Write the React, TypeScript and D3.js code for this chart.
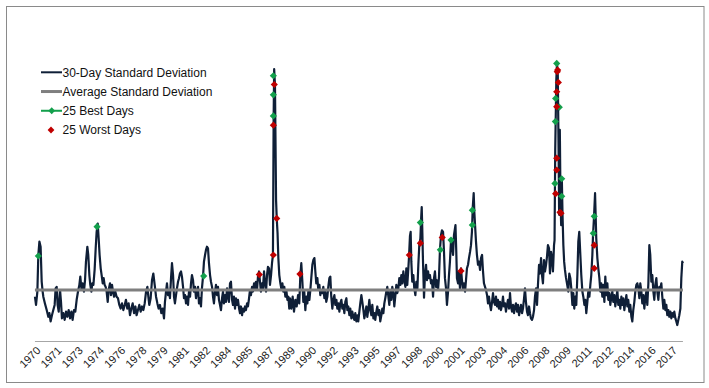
import React from 'react'
import * as d3 from 'd3'

// x-axis category labels (Excel shows every ~1.6 years)
const tickLabels = [
  '1970', '1971', '1973', '1974', '1976', '1978', '1979', '1981', '1982', '1984',
  '1985', '1987', '1989', '1990', '1992', '1993', '1995', '1997', '1998', '2000',
  '2001', '2003', '2004', '2006', '2008', '2009', '2011', '2012', '2014', '2016', '2017',
]

// long run average of the 30-day standard deviation (%)
const averageStdDev = 1.0

// [decimal year, 30-day std dev %]
const stdDevSeries: [number, number][] = [
  // 1970s
  [1970.07, 0.87], [1970.15, 0.71], [1970.25, 0.97], [1970.32, 1.68], [1970.4, 1.94], [1970.49, 1.84],
  [1970.57, 1.16], [1970.64, 0.97], [1970.69, 0.87], [1970.81, 0.74], [1970.94, 0.61], [1971.06, 0.48],
  [1971.14, 0.55], [1971.23, 0.39], [1971.33, 0.51], [1971.43, 0.61], [1971.53, 0.71], [1971.6, 1.03],
  [1971.68, 1.06], [1971.75, 0.71], [1971.83, 0.58], [1971.93, 1.0], [1972.0, 0.77], [1972.07, 0.45],
  [1972.17, 0.55], [1972.27, 0.42], [1972.37, 0.58], [1972.47, 0.48], [1972.57, 0.61], [1972.67, 0.45],
  [1972.77, 0.58], [1972.86, 0.42], [1972.96, 0.61], [1973.06, 0.58], [1973.16, 0.81], [1973.26, 0.97],
  [1973.36, 1.1], [1973.43, 1.26], [1973.51, 1.03], [1973.6, 1.13], [1973.7, 0.97], [1973.78, 1.19],
  [1973.85, 1.55], [1973.95, 1.84], [1974.02, 1.68], [1974.1, 1.29], [1974.17, 1.1], [1974.25, 0.97],
  [1974.32, 1.13], [1974.4, 1.1], [1974.49, 1.39], [1974.57, 1.81], [1974.64, 2.13], [1974.72, 2.29],
  [1974.79, 2.0], [1974.86, 1.68], [1974.94, 1.42], [1975.01, 1.29], [1975.09, 1.13], [1975.16, 1.23],
  [1975.23, 1.1], [1975.31, 1.06], [1975.38, 0.97], [1975.46, 0.77], [1975.53, 1.0], [1975.63, 1.13],
  [1975.7, 0.9], [1975.78, 1.1], [1975.85, 0.97], [1975.93, 0.87], [1976.02, 0.97], [1976.12, 0.87],
  [1976.22, 0.84], [1976.32, 0.71], [1976.42, 0.64], [1976.52, 0.74], [1976.62, 0.61], [1976.72, 0.71],
  [1976.81, 0.81], [1976.91, 0.64], [1977.01, 0.74], [1977.11, 0.51], [1977.21, 0.64], [1977.31, 0.74],
  [1977.41, 0.55], [1977.51, 0.68], [1977.6, 0.51], [1977.7, 0.61], [1977.8, 0.71], [1977.9, 0.58],
  [1978.0, 0.68], [1978.1, 0.61], [1978.2, 0.74], [1978.3, 0.97], [1978.4, 1.06], [1978.47, 0.87],
  [1978.54, 0.71], [1978.64, 0.84], [1978.74, 1.19], [1978.84, 1.32], [1978.94, 1.1], [1979.04, 0.87],
  [1979.14, 0.74], [1979.23, 0.64],
  // 1980s
  [1979.33, 0.71], [1979.43, 0.55], [1979.53, 0.64], [1979.63, 0.45], [1979.7, 0.77], [1979.78, 0.97],
  [1979.85, 1.13], [1979.93, 0.9], [1980.0, 1.0], [1980.07, 0.84], [1980.15, 1.23], [1980.22, 1.52],
  [1980.3, 1.29], [1980.37, 0.87], [1980.44, 0.74], [1980.52, 0.9], [1980.59, 1.03], [1980.67, 1.16],
  [1980.74, 1.23], [1980.81, 1.32], [1980.89, 1.36], [1980.96, 1.26], [1981.04, 1.06], [1981.11, 0.84],
  [1981.19, 0.9], [1981.26, 0.74], [1981.33, 0.87], [1981.41, 0.71], [1981.48, 0.97], [1981.56, 0.87],
  [1981.63, 1.13], [1981.7, 1.29], [1981.78, 1.19], [1981.85, 0.97], [1981.93, 1.06], [1982.0, 0.84],
  [1982.07, 0.97], [1982.15, 1.06], [1982.22, 0.74], [1982.3, 0.84], [1982.37, 0.68], [1982.44, 1.03],
  [1982.52, 1.26], [1982.59, 1.55], [1982.67, 1.68], [1982.74, 1.78], [1982.81, 1.84], [1982.89, 1.81],
  [1982.96, 1.52], [1983.04, 1.29], [1983.11, 1.16], [1983.19, 1.06], [1983.26, 0.87], [1983.33, 0.74],
  [1983.41, 0.97], [1983.48, 1.1], [1983.56, 0.9], [1983.63, 1.06], [1983.7, 0.81], [1983.78, 0.71],
  [1983.85, 0.61], [1983.93, 0.84], [1984.0, 0.97], [1984.07, 0.74], [1984.15, 0.9], [1984.22, 0.77],
  [1984.3, 1.03], [1984.37, 0.87], [1984.44, 0.77], [1984.52, 1.13], [1984.59, 1.16], [1984.67, 0.81],
  [1984.74, 0.71], [1984.81, 0.87], [1984.89, 0.64], [1984.96, 0.84], [1985.04, 0.71], [1985.11, 0.81],
  [1985.19, 0.64], [1985.26, 0.55], [1985.33, 0.68], [1985.41, 0.51], [1985.48, 0.64], [1985.56, 0.58],
  [1985.63, 0.68], [1985.7, 0.61], [1985.78, 0.74], [1985.85, 0.68], [1985.93, 0.84], [1986.0, 1.0],
  [1986.07, 0.9], [1986.15, 1.06], [1986.22, 0.97], [1986.3, 1.13], [1986.37, 1.03], [1986.44, 1.16],
  [1986.52, 1.0], [1986.59, 1.26], [1986.67, 1.36], [1986.74, 1.16], [1986.81, 0.97], [1986.89, 1.13],
  [1986.96, 1.03], [1987.04, 1.36], [1987.11, 1.13], [1987.19, 0.97], [1987.26, 1.29], [1987.33, 1.45],
  [1987.41, 1.42], [1987.48, 1.1], [1987.56, 1.29], [1987.63, 1.52], [1987.7, 1.68], [1987.75, 4.3],
  [1987.79, 5.29], [1987.85, 4.98], [1987.93, 2.75], [1987.98, 2.39], [1988.04, 2.11], [1988.1, 1.62],
  [1988.17, 1.29], [1988.25, 1.13], [1988.32, 1.03], [1988.4, 1.13], [1988.47, 0.97], [1988.54, 1.06],
  [1988.62, 0.87], [1988.69, 1.0], [1988.77, 0.81], [1988.84, 0.87], [1988.91, 0.64],
  // 1990s
  [1988.96, 0.84], [1989.06, 0.64], [1989.16, 0.87], [1989.26, 0.58], [1989.36, 0.81], [1989.46, 0.68],
  [1989.56, 0.9], [1989.65, 0.74], [1989.73, 1.29], [1989.8, 1.52], [1989.88, 1.16], [1989.95, 0.77],
  [1990.02, 0.97], [1990.1, 0.61], [1990.17, 0.87], [1990.25, 0.74], [1990.32, 0.97], [1990.4, 0.81],
  [1990.47, 1.0], [1990.54, 1.23], [1990.62, 1.49], [1990.69, 1.58], [1990.77, 1.62], [1990.84, 1.36],
  [1990.91, 1.13], [1990.99, 1.23], [1991.06, 1.0], [1991.14, 1.1], [1991.21, 0.9], [1991.28, 1.0],
  [1991.36, 0.94], [1991.43, 1.06], [1991.51, 0.84], [1991.58, 0.97], [1991.65, 0.77], [1991.73, 0.87],
  [1991.8, 1.06], [1991.88, 1.23], [1991.95, 1.26], [1992.02, 0.87], [1992.1, 0.64], [1992.17, 0.81],
  [1992.25, 0.9], [1992.32, 0.71], [1992.4, 0.81], [1992.47, 0.64], [1992.54, 0.74], [1992.62, 0.58],
  [1992.69, 0.74], [1992.77, 0.81], [1992.84, 0.64], [1992.91, 0.71], [1992.99, 0.55], [1993.06, 0.77],
  [1993.14, 0.84], [1993.21, 0.61], [1993.28, 0.68], [1993.36, 0.51], [1993.43, 0.64], [1993.51, 0.45],
  [1993.58, 0.58], [1993.65, 0.48], [1993.73, 0.42], [1993.8, 0.55], [1993.88, 0.39], [1993.95, 0.51],
  [1994.02, 0.39], [1994.1, 0.58], [1994.17, 0.74], [1994.25, 0.9], [1994.32, 0.77], [1994.4, 0.61],
  [1994.47, 0.45], [1994.54, 0.55], [1994.62, 0.68], [1994.69, 0.48], [1994.77, 0.64], [1994.84, 0.81],
  [1994.91, 0.61], [1994.99, 0.51], [1995.06, 0.71], [1995.14, 0.45], [1995.21, 0.55], [1995.28, 0.42],
  [1995.36, 0.58], [1995.43, 0.68], [1995.51, 0.51], [1995.58, 0.61], [1995.65, 0.39], [1995.73, 0.51],
  [1995.8, 0.64], [1995.88, 0.55], [1995.95, 0.74], [1996.02, 0.84], [1996.1, 0.97], [1996.17, 1.06],
  [1996.25, 0.87], [1996.32, 0.71], [1996.4, 1.0], [1996.47, 0.81], [1996.54, 1.06], [1996.62, 0.94],
  [1996.69, 0.68], [1996.77, 0.9], [1996.84, 1.1], [1996.91, 0.94], [1996.99, 1.03], [1997.06, 1.23],
  [1997.14, 1.1], [1997.21, 1.29], [1997.28, 1.13], [1997.36, 1.36], [1997.43, 1.19], [1997.51, 1.06],
  [1997.58, 1.42], [1997.65, 1.1], [1997.73, 1.42], [1997.78, 1.65], [1997.85, 2.05], [1997.9, 2.13],
  [1997.95, 1.55], [1998.02, 1.16], [1998.1, 1.29], [1998.17, 1.03], [1998.25, 0.9], [1998.32, 1.16],
  [1998.4, 1.03], [1998.47, 1.49], [1998.54, 1.87], [1998.62, 2.0], [1998.68, 2.4], [1998.72, 2.61],
  [1998.76, 2.2], [1998.81, 1.6],
  // 2000s
  [1998.89, 0.85], [1998.96, 1.29], [1999.04, 1.49], [1999.11, 1.19], [1999.19, 1.36], [1999.26, 1.23],
  [1999.33, 1.29], [1999.41, 1.13], [1999.48, 1.19], [1999.56, 0.87], [1999.63, 1.23], [1999.7, 1.36],
  [1999.78, 1.06], [1999.85, 1.19], [1999.93, 1.0], [2000.0, 1.26], [2000.07, 1.78], [2000.15, 2.07],
  [2000.22, 2.16], [2000.3, 2.13], [2000.37, 1.74], [2000.44, 1.23], [2000.52, 1.03], [2000.59, 0.71],
  [2000.67, 0.97], [2000.74, 1.29], [2000.81, 1.55], [2000.89, 1.97], [2000.96, 1.87], [2001.04, 1.68],
  [2001.11, 2.07], [2001.22, 2.26], [2001.28, 1.74], [2001.33, 1.23], [2001.41, 1.13], [2001.48, 1.36],
  [2001.56, 1.0], [2001.63, 1.42], [2001.7, 1.19], [2001.78, 1.03], [2001.85, 1.13], [2001.93, 0.97],
  [2002.0, 1.19], [2002.07, 1.42], [2002.15, 1.49], [2002.22, 1.62], [2002.3, 1.74], [2002.37, 1.87],
  [2002.44, 2.13], [2002.5, 2.6], [2002.57, 2.88], [2002.62, 2.5], [2002.74, 1.94], [2002.81, 1.68],
  [2002.89, 1.49], [2002.96, 1.55], [2003.04, 1.39], [2003.11, 1.62], [2003.19, 1.68], [2003.26, 1.36],
  [2003.33, 1.13], [2003.41, 1.06], [2003.48, 1.0], [2003.56, 0.9], [2003.63, 0.74], [2003.7, 0.87],
  [2003.78, 0.71], [2003.85, 0.61], [2003.93, 0.77], [2004.0, 0.94], [2004.07, 0.77], [2004.15, 0.71],
  [2004.22, 0.87], [2004.3, 0.68], [2004.37, 0.81], [2004.44, 0.64], [2004.52, 0.77], [2004.59, 0.61],
  [2004.67, 0.71], [2004.74, 0.87], [2004.81, 0.68], [2004.89, 0.74], [2004.96, 0.58], [2005.04, 0.71],
  [2005.11, 0.81], [2005.19, 0.64], [2005.26, 0.94], [2005.33, 0.68], [2005.41, 0.58], [2005.48, 0.71],
  [2005.56, 0.55], [2005.63, 0.68], [2005.7, 0.74], [2005.78, 0.58], [2005.85, 0.71], [2005.93, 0.51],
  [2006.0, 0.61], [2006.07, 0.71], [2006.15, 0.55], [2006.22, 0.64], [2006.3, 0.84], [2006.37, 1.03],
  [2006.44, 0.77], [2006.52, 0.58], [2006.59, 0.51], [2006.67, 0.68], [2006.74, 0.55], [2006.81, 0.45],
  [2006.89, 0.42], [2006.96, 0.48], [2007.04, 0.61], [2007.11, 0.87], [2007.19, 1.03], [2007.26, 0.71],
  [2007.33, 1.1], [2007.41, 1.49], [2007.48, 1.32], [2007.56, 1.62], [2007.63, 1.29], [2007.7, 1.13],
  [2007.78, 1.58], [2007.85, 1.36], [2007.93, 1.49], [2008.0, 1.65], [2008.07, 1.87], [2008.15, 1.81],
  [2008.22, 1.32], [2008.3, 1.74], [2008.37, 1.62], [2008.44, 1.36], [2008.52, 1.87], [2008.56, 1.97],
  [2008.61, 3.72], [2008.69, 5.08], [2008.74, 5.41], [2008.8, 5.17], [2008.85, 3.91], [2008.9, 2.46],
  [2008.95, 4.11], [2009.0, 2.75], [2009.05, 2.26], [2009.1, 3.14], [2009.15, 2.46], [2009.21, 1.88],
  [2009.27, 1.55], [2009.33, 1.39], [2009.4, 1.25],
  // 2010s
  [2009.46, 1.16], [2009.58, 0.97], [2009.65, 1.32], [2009.73, 1.23], [2009.8, 1.03], [2009.88, 0.71],
  [2009.95, 0.94], [2010.02, 0.64], [2010.1, 0.87], [2010.17, 0.71], [2010.25, 1.29], [2010.32, 1.94],
  [2010.39, 2.13], [2010.47, 1.68], [2010.54, 1.29], [2010.62, 0.97], [2010.69, 0.87], [2010.77, 0.71],
  [2010.84, 0.81], [2010.91, 0.55], [2010.99, 0.77], [2011.06, 0.97], [2011.14, 0.87], [2011.21, 1.1],
  [2011.28, 1.29], [2011.36, 1.68], [2011.41, 2.07], [2011.48, 2.4], [2011.56, 2.88], [2011.65, 2.0],
  [2011.73, 1.62], [2011.8, 1.42], [2011.88, 1.23], [2011.95, 0.97], [2012.02, 1.13], [2012.1, 0.87],
  [2012.17, 1.1], [2012.25, 0.77], [2012.32, 1.26], [2012.39, 0.9], [2012.47, 1.13], [2012.54, 0.81],
  [2012.62, 0.94], [2012.69, 0.71], [2012.77, 0.87], [2012.84, 0.97], [2012.91, 0.77], [2012.99, 0.9],
  [2013.06, 0.68], [2013.14, 0.84], [2013.21, 1.0], [2013.28, 0.71], [2013.36, 0.81], [2013.43, 0.64],
  [2013.51, 0.87], [2013.58, 0.71], [2013.65, 0.84], [2013.73, 0.61], [2013.8, 0.77], [2013.88, 0.9],
  [2013.95, 0.68], [2014.02, 0.81], [2014.1, 0.58], [2014.17, 0.71], [2014.25, 0.48], [2014.32, 0.39],
  [2014.39, 0.61], [2014.47, 0.77], [2014.54, 0.97], [2014.62, 1.1], [2014.69, 1.13], [2014.77, 1.03],
  [2014.84, 0.84], [2014.91, 1.13], [2014.99, 0.97], [2015.06, 0.74], [2015.14, 0.9], [2015.21, 0.64],
  [2015.28, 0.84], [2015.36, 0.97], [2015.43, 0.71], [2015.51, 1.13], [2015.58, 1.87], [2015.65, 1.68],
  [2015.73, 1.16], [2015.8, 1.29], [2015.88, 0.97], [2015.95, 0.81], [2016.02, 1.1], [2016.1, 1.23],
  [2016.17, 0.97], [2016.25, 0.81], [2016.32, 1.06], [2016.4, 1.03], [2016.47, 1.13], [2016.54, 0.87],
  [2016.62, 0.64], [2016.69, 0.81], [2016.77, 0.61], [2016.84, 0.71], [2016.91, 0.51], [2016.99, 0.61],
  [2017.06, 0.48], [2017.14, 0.58], [2017.21, 0.45], [2017.28, 0.55], [2017.36, 0.48], [2017.43, 0.58],
  [2017.51, 0.45], [2017.58, 0.39], [2017.65, 0.32], [2017.73, 0.42], [2017.8, 0.51], [2017.88, 0.64],
  [2017.95, 1.23], [2018.02, 1.55], [2018.07, 1.52],
]

// 25 best days: [decimal year, std dev on that day]
const bestDays: [number, number][] = [
  [1970.32, 1.66], [1974.67, 2.23], [1982.57, 1.27], [1987.73, 5.16], [1987.73, 4.79], [1987.73, 4.38],
  [1998.62, 2.31], [2000.1, 1.78], [2000.89, 1.97], [2002.47, 2.26], [2002.47, 2.55], [2008.72, 5.4],
  [2008.64, 4.72], [2008.91, 4.55], [2008.62, 4.27], [2008.59, 3.07], [2009.09, 3.16], [2009.09, 2.82],
  [2011.5, 2.43], [2011.43, 2.1],
]

// 25 worst days
const worstDays: [number, number][] = [
  [1986.69, 1.3], [1987.8, 4.99], [1987.73, 4.2], [1987.98, 2.39], [1987.73, 1.68], [1989.7, 1.31],
  [1997.8, 1.68], [1998.62, 1.91], [2000.24, 2.02], [2001.63, 1.37], [2008.79, 5.27], [2008.76, 5.24],
  [2008.84, 5.03], [2008.72, 4.85], [2008.72, 4.56], [2008.72, 3.56], [2008.72, 3.33], [2008.64, 2.87],
  [2008.96, 2.51], [2009.04, 2.49], [2011.5, 1.87], [2011.5, 1.42],
]

const legendLabels = ['30-Day Standard Deviation', 'Average Standard Deviation', '25 Best Days', '25 Worst Days']

const NAVY = '#0f1f37'
const GREY = '#7f7f7f'
const GREEN = '#13a04c'
const RED = '#c00000'
const FONT = '"Liberation Sans", Arial, sans-serif'

const diamond = (r: number) => `M0,${-r}L${r},0L0,${r}L${-r},0Z`

const App = () => {
  const width = 709
  const height = 388

  const xScale = d3.scaleLinear().domain([1970, 2018.1]).range([34, 683.35])
  const yScale = d3.scaleLinear().domain([0, 5]).range([341.5, 84])
  const labelScale = d3.scalePoint<string>().domain(tickLabels).range([38.5, 675])

  const first = stdDevSeries[0][0]
  const last = stdDevSeries[stdDevSeries.length - 1][0]

  const lineGenerator = d3.line<[number, number]>()
    .x(d => xScale(d[0]))
    .y(d => yScale(d[1]))

  const legendY = d3.scalePoint<string>().domain(legendLabels).range([72.3, 130])

  return (
    <svg width={width} height={height} style={{ position: 'absolute', left: 0, top: 0, background: '#fff' }}>
      <rect x={6.5} y={6.5} width={697.5} height={376} fill="#fff" stroke="#8a8a8a" strokeWidth={1} />

      {/* horizontal axis */}
      <line x1={xScale(first)} x2={xScale(last)} y1={yScale(0)} y2={yScale(0)} stroke="#a6a6a6" strokeWidth={1} />
      {tickLabels.map(t => (
        <text
          key={t}
          transform={`translate(${labelScale(t)},${yScale(0) + 7}) rotate(-45)`}
          textAnchor="end"
          dy="0.35em"
          fontFamily={FONT}
          fontSize={11}
          fill="#222"
        >
          {t}
        </text>
      ))}

      <path d={lineGenerator(stdDevSeries) ?? ''} fill="none" stroke={NAVY} strokeWidth={2.2} strokeLinejoin="round" />

      <line
        x1={xScale(first)}
        x2={xScale(last)}
        y1={yScale(averageStdDev)}
        y2={yScale(averageStdDev)}
        stroke={GREY}
        strokeWidth={3}
      />

      {bestDays.map((d, i) => (
        <path key={`b${i}`} d={diamond(3.6)} transform={`translate(${xScale(d[0])},${yScale(d[1])})`} fill={GREEN} />
      ))}
      {worstDays.map((d, i) => (
        <path key={`w${i}`} d={diamond(3.6)} transform={`translate(${xScale(d[0])},${yScale(d[1])})`} fill={RED} />
      ))}

      {/* legend */}
      <g fontFamily={FONT} fontSize={12} fill="#111">
        {legendLabels.map((label, i) => {
          const y = legendY(label) as number
          return (
            <g key={label}>
              {i === 0 && <line x1={41} x2={62} y1={y} y2={y} stroke={NAVY} strokeWidth={2} />}
              {i === 1 && <line x1={41} x2={62} y1={y} y2={y} stroke={GREY} strokeWidth={3} />}
              {i === 2 && <line x1={41} x2={62} y1={y} y2={y} stroke={GREEN} strokeWidth={2} />}
              {i === 2 && <path d={diamond(3.4)} transform={`translate(51.7,${y})`} fill={GREEN} />}
              {i === 3 && <path d={diamond(3.4)} transform={`translate(51,${y})`} fill={RED} />}
              <text x={62.5} y={y} dy="0.35em">{label}</text>
            </g>
          )
        })}
      </g>
    </svg>
  )
}

export default App
